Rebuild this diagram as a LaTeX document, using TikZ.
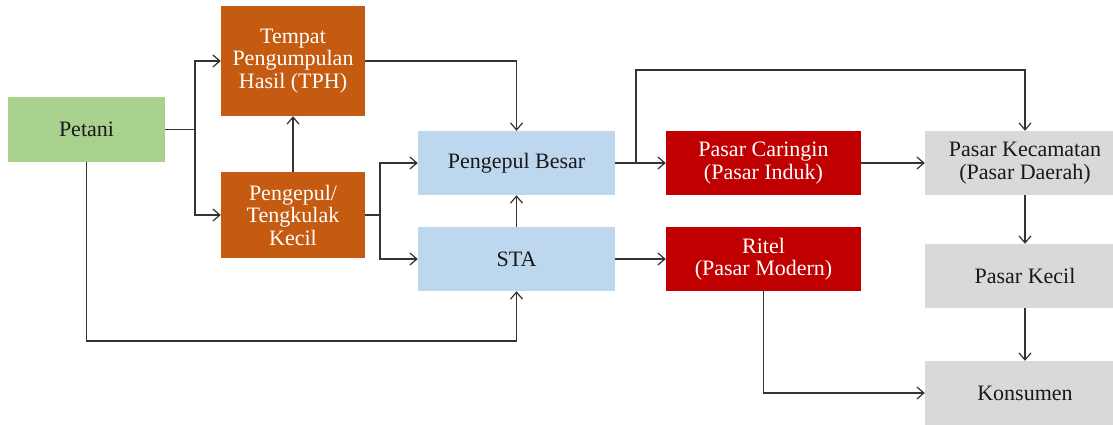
\documentclass[tikz,border=0pt]{standalone}
\usepackage{fontspec}
\setmainfont{Liberation Serif}
\usetikzlibrary{arrows.meta}
\definecolor{tani}{HTML}{A9D18E}
\definecolor{oranye}{HTML}{C55A11}
\definecolor{biru}{HTML}{BDD7EE}
\definecolor{merah}{HTML}{C00000}
\definecolor{abu}{HTML}{D9D9D9}
\tikzset{
  kotak/.style={inner sep=2pt, align=center, text=black!90, font=\fontsize{22}{22.5}\selectfont},
  kotakgelap/.style={kotak, text=white},
  alur/.style={draw=black!80, line width=1.2pt, -{Straight Barb[length=7pt,width=12pt]}},
  garis/.style={draw=black!80, line width=1.2pt}
}
\begin{document}
\begin{tikzpicture}[x=1pt,y=-1pt]
\useasboundingbox (0,0) rectangle (1113,424);

\node[kotak, fill=tani, minimum width=157pt, minimum height=65pt] (petani) at (86.5,129.5) {Petani};
\node[kotakgelap, fill=oranye, minimum width=144pt, minimum height=110pt] (tph) at (293,61)
{Tempat\\ Pengumpulan\\ Hasil (TPH)};
\node[kotakgelap, fill=oranye, minimum width=144pt, minimum height=86pt] (kecil) at (293,215)
{Pengepul/\\ Tengkulak\\ Kecil};

\node[kotak, fill=biru, minimum width=197pt, minimum height=64pt] (besar) at (516.5,163) {Pengepul Besar};
\node[kotak, fill=biru, minimum width=197pt, minimum height=64pt] (sta) at (516.5,259) {STA};

\node[kotakgelap, fill=merah, minimum width=195pt, minimum height=64pt] (caringin) at (763.5,163)
{Pasar Caringin\\ (Pasar Induk)};
\node[kotakgelap, fill=merah, minimum width=195pt, minimum height=64pt] (ritel) at (763.5,259)
{Ritel\\ (Pasar Modern)};

\node[kotak, fill=abu, minimum width=200pt, minimum height=64pt] (kecamatan) at (1025,163)
{Pasar Kecamatan\\ (Pasar Daerah)};
\node[kotak, fill=abu, minimum width=200pt, minimum height=64pt] (pkecil) at (1025,276) {Pasar Kecil};
\node[kotak, fill=abu, minimum width=200pt, minimum height=64pt] (konsumen) at (1025,393) {Konsumen};

% petani ke TPH dan pengepul kecil
\coordinate (j1) at (195,129.5);
\draw[garis] (petani.east) -- (j1);
\draw[alur] (j1) |- (tph.west);
\draw[alur] (j1) |- (kecil.west);
\draw[alur] (kecil.north) -- (tph.south);

\draw[alur] (tph.east) -| (besar.north);

% pengepul kecil ke pengepul besar dan STA
\coordinate (j2) at (380,215);
\draw[garis] (kecil.east) -- (j2);
\draw[alur] (j2) |- (besar.west);
\draw[alur] (j2) |- (sta.west);
\draw[alur] (sta.north) -- (besar.south);

\coordinate (j3) at (86.5,341);
\draw[alur] (petani.south) -- (j3) -| (sta.south);

% pengepul besar ke pasar
\draw[alur] (besar.east) -- (caringin.west);
\coordinate (j4) at (636,163);
\coordinate (j5) at (636,70);
\draw[alur] (j4) -- (j5) -| (kecamatan.north);
\draw[alur] (sta.east) -- (ritel.west);
\draw[alur] (caringin.east) -- (kecamatan.west);

\draw[alur] (kecamatan.south) -- (pkecil.north);
\draw[alur] (pkecil.south) -- (konsumen.north);
\draw[alur] (ritel.south) |- (konsumen.west);
\end{tikzpicture}
\end{document}
